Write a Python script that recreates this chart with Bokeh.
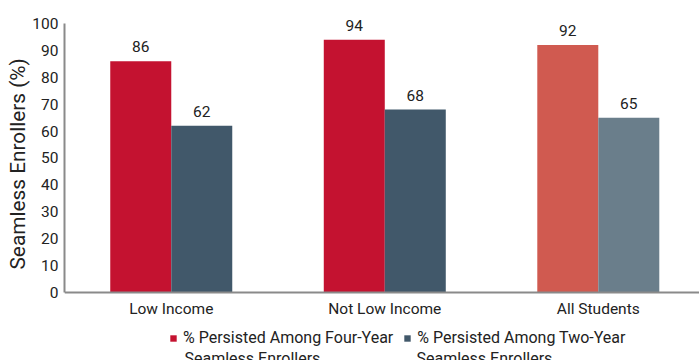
from bokeh.plotting import figure
from bokeh.models import (Range1d, FixedTicker, ColumnDataSource, Legend, LegendItem, LabelSet,
                          Span, Label, Title)
from bokeh.core.properties import value
from bokeh.embed import file_html
from bokeh.resources import INLINE

categories = ["Low Income", "Not Low Income", "All Students"]
four_year = [86, 94, 92]
two_year = [62, 68, 65]
four_colors = ["#C41230", "#C41230", "#D05A50"]
two_colors = ["#41586A", "#41586A", "#6A7E8B"]
series_line1 = ["% Persisted Among Four-Year", "% Persisted Among Two-Year"]
series_line2 = ["Seamless Enrollers", "Seamless Enrollers"]
y_ticks = list(range(0, 101, 10))
y_label = "Seamless Enrollers (%)"

FONT = "Roboto"
TXT = "#222222"
AXIS = "#8a8a8a"

# frame spans the whole window height; value 0 sits at y=292, 100 at y=23
p = figure(width=699, height=360, output_backend="svg", toolbar_location=None,
           x_range=Range1d(0, 2.974), y_range=Range1d(-25.28, 108.55),
           x_axis_location=None,
           min_border_left=64, min_border_right=0, min_border_top=0, min_border_bottom=0)
p.outline_line_color = None
p.grid.grid_line_color = None
p.background_fill_color = "white"

centers = [i + 0.5 for i in range(len(categories))]
bw = 0.2857
src4 = ColumnDataSource(dict(x=[c - bw / 2 for c in centers], top=four_year, color=four_colors,
                             lab=[str(v) for v in four_year]))
src2 = ColumnDataSource(dict(x=[c + bw / 2 for c in centers], top=two_year, color=two_colors,
                             lab=[str(v) for v in two_year]))

r4 = p.vbar(x="x", top="top", width=bw, fill_color="color", line_color=None, source=src4)
r2 = p.vbar(x="x", top="top", width=bw, fill_color="color", line_color=None, source=src2)

for s in (src4, src2):
    p.add_layout(LabelSet(x="x", y="top", text="lab", source=s, text_align="center",
                          text_baseline="alphabetic", y_offset=9, text_font=value(FONT),
                          text_font_size="15.5px", text_color=TXT))

# baseline (x axis) and category labels
p.add_layout(Span(location=0, dimension="width", line_color=AXIS, line_width=2))
cat_src = ColumnDataSource(dict(x=centers, y=[0] * len(centers), t=categories))
p.add_layout(LabelSet(x="x", y="y", text="t", source=cat_src, text_align="center",
                      text_baseline="alphabetic", y_offset=-22, text_font=value(FONT),
                      text_font_size="15.5px", text_color=TXT))

p.yaxis.ticker = FixedTicker(ticks=y_ticks, minor_ticks=[])
p.yaxis.bounds = (0, 100)
p.yaxis.axis_line_color = AXIS
p.yaxis.axis_line_width = 2
p.yaxis.major_tick_line_color = None
p.yaxis.minor_tick_line_color = None
p.yaxis.major_tick_out = 0
p.yaxis.major_tick_in = 0
p.yaxis.major_label_text_font = FONT
p.yaxis.major_label_text_font_size = "15.5px"
p.yaxis.major_label_text_color = TXT
p.yaxis.major_label_standoff = 6

p.add_layout(Title(text=y_label, align="left", offset=91, text_font=FONT,
                   text_font_size="20.8px", text_font_style="normal", text_color=TXT,
                   standoff=0), "left")

legend = Legend(items=[LegendItem(label=series_line1[0], renderers=[r4], index=0),
                       LegendItem(label=series_line1[1], renderers=[r2], index=0)],
                orientation="horizontal", location=(105, 13),
                glyph_width=8, glyph_height=8, label_standoff=6, spacing=10,
                padding=0, margin=0, border_line_color=None, background_fill_alpha=0,
                label_text_font=FONT, label_text_font_size="16px", label_text_color=TXT,
                label_text_line_height=1.35)
p.add_layout(legend, "center")
for lx, txt in zip([120, 352], series_line2):
    p.add_layout(Label(x=lx, y=2.5, x_units="screen", y_units="screen", text=txt,
                       text_baseline="alphabetic", text_font=FONT, text_font_size="16px",
                       text_color=TXT))

open("out.html", "w").write(file_html(p, INLINE))
